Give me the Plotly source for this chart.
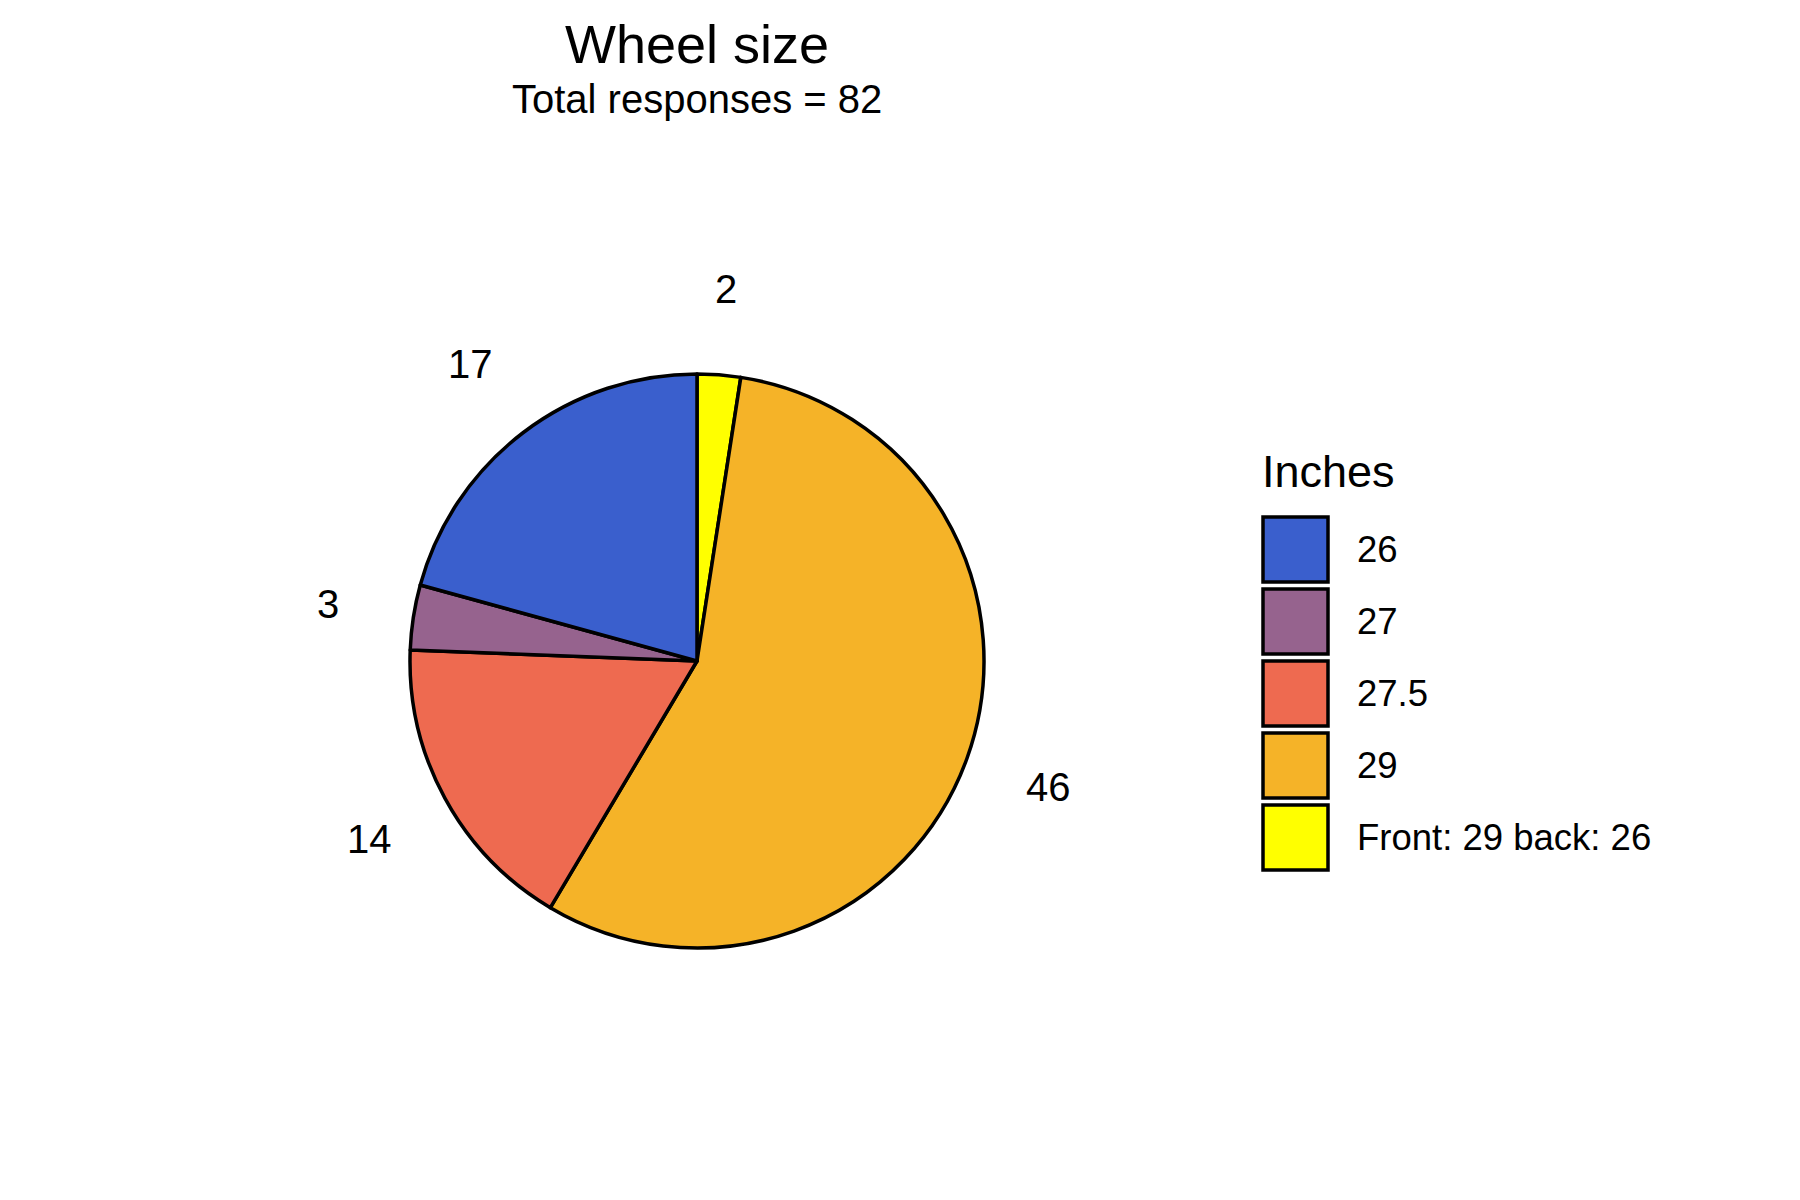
import numpy as np
import plotly.graph_objects as go

# data
sizes = ["26", "27", "27.5", "29", "Front: 29 back: 26"]
counts = [17, 3, 14, 46, 2]
colors = ["#3A5FCD", "#96638E", "#EE6A50", "#F5B328", "#FFFF00"]

W, H = 1800, 1200
FONT = "Liberation Sans, Arial, sans-serif"
OFF = 8  # page body margin

# pie geometry (pixels)
cx, cy, rad = 697 - OFF, 661 - OFF, 287
lab_r = rad * 1.3

# slices run counterclockwise from 12 o'clock in the original chart:
# same as clockwise from 12 o'clock with the order reversed
fig = go.Figure()
fig.add_trace(go.Pie(
    labels=sizes[::-1],
    values=counts[::-1],
    marker=dict(colors=colors[::-1], line=dict(color="black", width=3.5)),
    sort=False,
    direction="clockwise",
    rotation=0,
    textinfo="none",
    hoverinfo="label+value",
    showlegend=False,
    domain=dict(x=[(cx - rad) / W, (cx + rad) / W],
                y=[(H - cy - rad) / H, (H - cy + rad) / H]),
))

# count labels outside the slices (counterclockwise from 12 o'clock)
total = sum(counts)
start = 90.0
for n in counts:
    span = 360.0 * n / total
    mid = np.radians(start + span / 2)
    start += span
    fig.add_annotation(
        x=(cx + lab_r * np.cos(mid)) / W,
        y=(H - cy + lab_r * np.sin(mid)) / H,
        xref="paper", yref="paper", text=str(n), showarrow=False,
        font=dict(size=40, color="black", family=FONT),
        xanchor="center", yanchor="middle",
    )

# legend drawn by hand (large keys)
leg_x, leg_top, key, pitch = 1263 - OFF, 517 - OFF, 65, 72
fig.add_annotation(
    x=(leg_x - 3) / W, y=(H - 471 + OFF) / H, xref="paper", yref="paper",
    text="Inches", showarrow=False, xanchor="left", yanchor="middle",
    font=dict(size=45, color="black", family=FONT),
)
for i, (lab, col) in enumerate(zip(sizes, colors)):
    top = leg_top + i * pitch
    fig.add_shape(
        type="rect", xref="paper", yref="paper",
        x0=leg_x / W, x1=(leg_x + key) / W,
        y0=(H - top) / H, y1=(H - top - key) / H,
        fillcolor=col, line=dict(color="black", width=3.5),
    )
    fig.add_annotation(
        x=(leg_x + 92) / W, y=(H - top - key / 2) / H, xref="paper", yref="paper",
        text=lab, showarrow=False, xanchor="left", yanchor="middle",
        font=dict(size=36.5, color="black", family=FONT),
    )

# title + subtitle
fig.add_annotation(
    x=cx / W, y=(H - 44 + OFF) / H, xref="paper", yref="paper", text="Wheel size",
    showarrow=False, xanchor="center", yanchor="middle",
    font=dict(size=54, color="black", family=FONT),
)
fig.add_annotation(
    x=cx / W, y=(H - 99 + OFF) / H, xref="paper", yref="paper", text="Total responses = 82",
    showarrow=False, xanchor="center", yanchor="middle",
    font=dict(size=40, color="black", family=FONT),
)

fig.update_layout(
    width=W, height=H,
    margin=dict(l=0, r=0, t=0, b=0),
    paper_bgcolor="white", plot_bgcolor="white",
    font=dict(family=FONT, color="black"),
)

fig.write_html("out.html")
